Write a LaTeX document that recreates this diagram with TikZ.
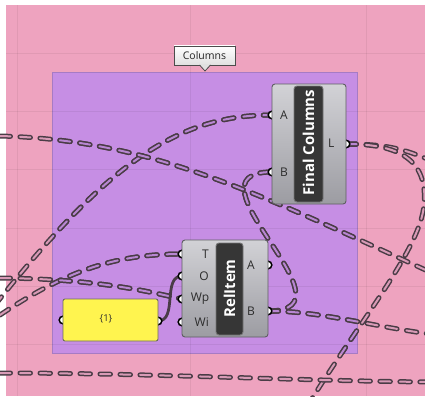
\documentclass[tikz,border=0pt]{standalone}
\usepackage{fontspec}
\setmainfont{Open Sans}
\definecolor{bgpink}{HTML}{EEA3BF}
\definecolor{grppurple}{HTML}{C68EE4}
\definecolor{grpline}{HTML}{A67BC4}
\definecolor{wirecol}{HTML}{4A3C46}
\definecolor{innerpink}{HTML}{D89AB6}
\definecolor{innerpurple}{HTML}{B886D2}
\definecolor{bodytop}{HTML}{D2D2D6}
\definecolor{bodybot}{HTML}{9C9CA2}
\definecolor{bodyline}{HTML}{5E5E62}
\definecolor{bandfill}{HTML}{363636}
\definecolor{bandline}{HTML}{767676}
\definecolor{labtext}{HTML}{2C2C2C}
\definecolor{panelfill}{HTML}{FFF44F}
\definecolor{panelline}{HTML}{6E6E5A}
\tikzset{
  wire/.style={draw=wirecol, line width=1.5pt, double distance=2.0pt,
    dash pattern=on 10.5pt off 9.5pt, line cap=round},
  solidwire/.style={draw=wirecol, line width=2.8pt, line cap=round},
  gridline/.style={draw=black, opacity=0.06, line width=0.8pt},
  compbody/.style={rectangle, rounded corners=3pt, draw=bodyline, line width=0.9pt,
    top color=bodytop, bottom color=bodybot, inner sep=0pt},
  band/.style={rectangle, rounded corners=3pt, draw=bandline, line width=0.9pt,
    fill=bandfill, inner sep=0pt},
  bandtext/.style={text=white, font=\fontsize{15}{18}\selectfont\bfseries, rotate=90, inner sep=0pt},
  portlab/.style={text=labtext, font=\fontsize{12}{14}\selectfont, inner sep=0pt},
  grip/.style={circle, minimum size=7.6pt, inner sep=0pt, fill=white, draw=black, line width=1.5pt},
  panelbox/.style={rectangle, rounded corners=2pt, draw=panelline, line width=0.9pt,
    fill=panelfill, inner sep=0pt},
  grpbox/.style={rectangle, draw=grpline, line width=0.8pt, fill=grppurple, inner sep=0pt},
  tagbox/.style={rectangle, draw=black!70, line width=0.8pt, top color=white,
    bottom color=black!12, inner sep=0pt, font=\fontsize{10.5}{12}\selectfont, text=black!85}
}
\newcommand{\allwires}[1]{%
  \draw[wire, double=#1] (w1s) .. controls (110,160) and (180,115) .. (fcA);
  \draw[wire, double=#1] (w2s) .. controls (150,140) and (250,190) .. (w2e);
  \draw[wire, double=#1] (fcL) .. controls (390,144) and (405,150) .. (w3e);
  \draw[wire, double=#1] (fcL) .. controls (400,144) and (428,160) .. (w4m)
                          .. controls (420,250) and (360,320) .. (w4e);
  \draw[wire, double=#1] (riB) .. controls (363,311) and (177,172) .. (fcB);
  \draw[wire, double=#1] (riB) .. controls (320,311) and (370,326) .. (w5e);
  \draw[wire, double=#1] (w6s) .. controls (70,268) and (120,254) .. (riT);
  \draw[wire, double=#1] (w7s) .. controls (100,279) and (150,292) .. (riWp);
  \draw[wire, double=#1] (w8s) .. controls (150,373) and (300,381) .. (w8e);
}
\begin{document}
\begin{tikzpicture}[x=1pt,y=-1pt]
\useasboundingbox (0,0) rectangle (425,396);
\fill[white] (0,0) rectangle (425,396);
\fill[bgpink] (6,5) rectangle (425,396);
% group
\node[grpbox, minimum width=305pt, minimum height=281pt] (grp) at (204.5,212.5) {};
% grid
\foreach \yy in {53,111,169,228,286,344} \draw[gridline] (6,\yy) -- (425,\yy);
\foreach \xx in {17,190,366} \draw[gridline] (\xx,5) -- (\xx,396);
% group tag
\node[tagbox, minimum width=61pt, minimum height=19pt] (tag) at (204.5,55.5) {Columns};
\fill[black!12] (199.5,64.4) -- (205,71) -- (210.5,64.4) -- cycle;
\draw[black!70, line width=0.8pt, line join=round] (199.5,65) -- (205,71) -- (210.5,65);
% port coordinates
\coordinate (fcA) at (272,115);
\coordinate (fcB) at (272,172);
\coordinate (fcL) at (346,144);
\coordinate (riT) at (182,254);
\coordinate (riO) at (182,276);
\coordinate (riWp) at (182,299);
\coordinate (riWi) at (182,322);
\coordinate (riA) at (268,265);
\coordinate (riB) at (268,311);
\coordinate (pIn) at (63,320);
\coordinate (pOut) at (158,321);
% free wire ends
\coordinate (w1s) at (-5,305);
\coordinate (w2s) at (0,136);
\coordinate (w2e) at (430,272);
\coordinate (w3e) at (430,160);
\coordinate (w4m) at (424,205);
\coordinate (w4e) at (305,410);
\coordinate (w5e) at (430,334);
\coordinate (w6s) at (0,315);
\coordinate (w7s) at (0,278);
\coordinate (w8s) at (0,373);
\coordinate (w8e) at (430,382);
% wires
\allwires{innerpink}
\begin{scope}
  \clip (52,72) rectangle (357,353);
  \allwires{innerpurple}
\end{scope}
\draw[solidwire] (pOut) .. controls (178,321) and (162,276) .. (riO);
% grips
\foreach \p in {fcA,fcB,fcL,riT,riO,riWp,riWi,riA,riB,pIn,pOut}
  \node[grip] (g\p) at (\p) {};
% Final Columns component
\node[compbody, minimum width=74pt, minimum height=120pt] (fc) at (309,144) {};
\node[band, minimum width=29pt, minimum height=116pt] (fcband) at (308.5,144) {};
\node[bandtext] (fctitle) at (308.5,142.5) {Final Columns};
\node[portlab, anchor=west] (fcAl) at (280,115) {A};
\node[portlab, anchor=west] (fcBl) at (280,172) {B};
\node[portlab, anchor=west] (fcLl) at (328,143) {L};
% RelItem component
\node[compbody, minimum width=86pt, minimum height=97pt] (ri) at (225,288.5) {};
\node[band, minimum width=27pt, minimum height=92pt] (riband) at (229.5,289) {};
\node[bandtext] (rititle) at (229.5,288.5) {RelItem};
\node[portlab, anchor=east] (riTl) at (209,254) {T};
\node[portlab, anchor=east] (riOl) at (209,276) {O};
\node[portlab, anchor=east] (riWpl) at (209.5,299) {Wp};
\node[portlab, anchor=east] (riWil) at (209,322) {Wi};
\node[portlab, anchor=west] (riAl) at (247,265) {A};
\node[portlab, anchor=west] (riBl) at (247,311) {B};
% panel
\node[panelbox, minimum width=95pt, minimum height=42pt] (panel) at (110.5,320) {};
\node[text=labtext, font=\fontsize{9.5}{11}\selectfont, inner sep=0pt] (ptext) at (106,319) {\{1\}};
\end{tikzpicture}
\end{document}
